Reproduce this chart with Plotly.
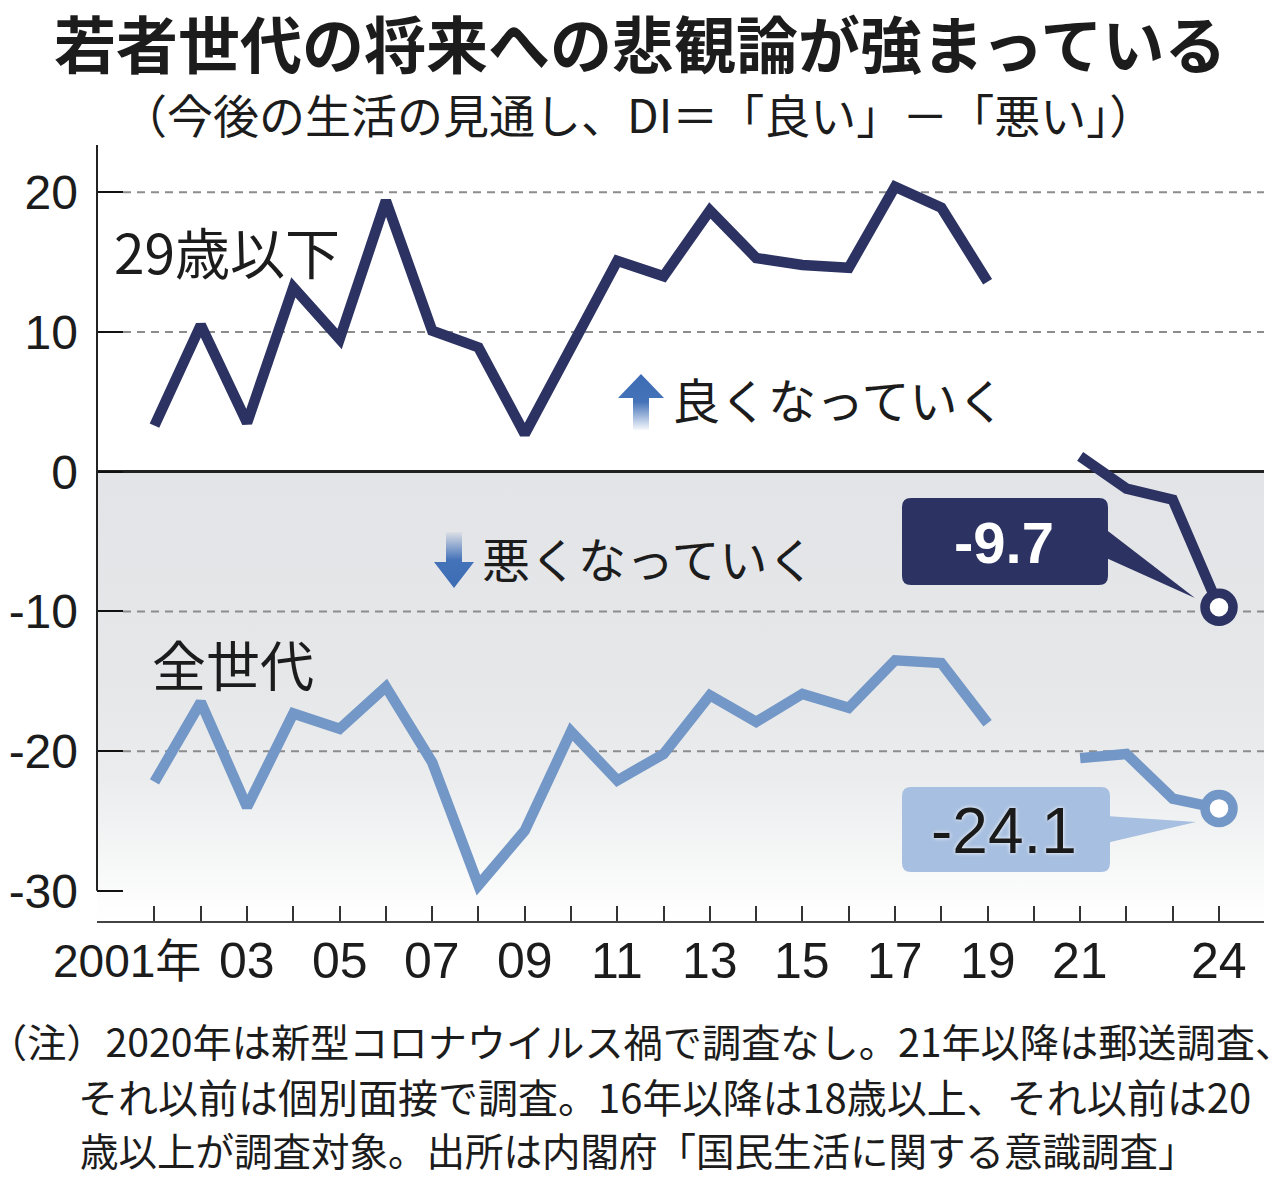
import base64
import plotly.graph_objects as go

# ---------------- data ----------------
YEARS = list(range(2001, 2025))
YOUTH_29_UNDER = [3.3, 10.5, 3.5, 13.2, 9.5, 19.4, 10.1, 8.9, 2.7, 8.9,
                  15.1, 14.0, 18.7, 15.3, 14.8, 14.6, 20.4, 18.9, 13.6, None,
                  1.1, -1.2, -2.0, -9.7]
ALL_GENERATIONS = [-22.2, -16.5, -24.0, -17.3, -18.4, -15.4, -20.8, -29.6, -25.7, -18.6,
                   -22.1, -20.2, -16.0, -17.9, -15.9, -16.9, -13.5, -13.7, -18.0, None,
                   -20.5, -20.2, -23.4, -24.1]
SERIES_NAMES = ["29歳以下", "全世代"]
X_LABELED = {2003: "03", 2005: "05", 2007: "07", 2009: "09", 2011: "11", 2013: "13",
             2015: "15", 2017: "17", 2019: "19", 2021: "21", 2024: "24"}
FIRST_YEAR_LABEL = "2001年"
Y_TICKS = [20, 10, 0, -10, -20, -30]
Y_TICK_LABELS = ["20", "10", "0", "-10", "-20", "-30"]
GRID_Y = [20, 10, -10, -20]

TITLE = "若者世代の将来への悲観論が強まっている"
SUBTITLE = "（今後の生活の見通し、DI＝「良い」－「悪い」）"
UP_LABEL = "良くなっていく"
DOWN_LABEL = "悪くなっていく"
NOTES = ["（注）2020年は新型コロナウイルス禍で調査なし。21年以降は郵送調査、",
         "それ以前は個別面接で調査。16年以降は18歳以上、それ以前は20",
         "歳以上が調査対象。出所は内閣府「国民生活に関する意識調査」"]

# ---------------- style ----------------
NAVY = "#2c3262"
LIGHT = "#7397c6"
BOX_LIGHT = "#a7bfe0"
TEXT = "#1c1c1c"
CJK = "Noto Sans CJK JP, sans-serif"
NUM = "Liberation Sans, sans-serif"

OFF = 8                      # browser body margin
W, H = 1280 - OFF, 1177 - OFF
PL, PR, PT, PB = 97, 1264, 145, 921  # plot area in reference pixels
X_RANGE = [1999.758, 2024.972]
Y_RANGE = [-32.16, 23.39]


def px(x):
    return (x - PL) / (PR - PL)


def py(y):
    return (PB - y) / (PB - PT)


def svg_uri(svg):
    return "data:image/svg+xml;base64," + base64.b64encode(svg.encode()).decode()


fig = go.Figure()

for name, vals, col in [(SERIES_NAMES[0], YOUTH_29_UNDER, NAVY),
                        (SERIES_NAMES[1], ALL_GENERATIONS, LIGHT)]:
    fig.add_trace(go.Scatter(x=YEARS, y=vals, mode="lines", name=name,
                             line=dict(color=col, width=10.5), connectgaps=False,
                             showlegend=False, hoverinfo="skip"))
    fig.add_trace(go.Scatter(x=[YEARS[-1]], y=[vals[-1]], mode="markers",
                             marker=dict(size=28, color="white",
                                         line=dict(color=col, width=9.5)),
                             showlegend=False, hoverinfo="skip"))

# background gradient below zero
grad_svg = ("<svg xmlns='http://www.w3.org/2000/svg' width='10' height='100' preserveAspectRatio='none'>"
            "<defs><linearGradient id='g' x1='0' y1='0' x2='0' y2='1'>"
            "<stop offset='0' stop-color='#e3e4e7'/>"
            "<stop offset='0.47' stop-color='#e6e7e9'/>"
            "<stop offset='0.68' stop-color='#ebecee'/>"
            "<stop offset='0.84' stop-color='#f4f5f5'/>"
            "<stop offset='0.96' stop-color='#fdfdfd'/>"
            "<stop offset='1' stop-color='#ffffff'/>"
            "</linearGradient></defs><rect width='10' height='100' fill='url(#g)'/></svg>")
images = [dict(source=svg_uri(grad_svg), xref="paper", yref="y", x=0, y=0,
               sizex=1, sizey=-Y_RANGE[0], xanchor="left", yanchor="top",
               sizing="stretch", layer="below")]

up_svg = ("<svg xmlns='http://www.w3.org/2000/svg' width='46' height='56' viewBox='0 0 46 56' preserveAspectRatio='none'>"
          "<defs><linearGradient id='u' x1='0' y1='0' x2='0' y2='1'>"
          "<stop offset='0' stop-color='#3e6cb4'/><stop offset='0.5' stop-color='#4573b9'/>"
          "<stop offset='1' stop-color='#4573b9' stop-opacity='0.05'/></linearGradient></defs>"
          "<path d='M23 0 L46 24 L31 24 L31 56 L15 56 L15 24 L0 24 Z' fill='url(#u)'/></svg>")
down_svg = ("<svg xmlns='http://www.w3.org/2000/svg' width='40' height='56' viewBox='0 0 40 56' preserveAspectRatio='none'>"
            "<defs><linearGradient id='d' x1='0' y1='0' x2='0' y2='1'>"
            "<stop offset='0' stop-color='#4573b9' stop-opacity='0.05'/><stop offset='0.5' stop-color='#4573b9'/>"
            "<stop offset='1' stop-color='#3e6cb4'/></linearGradient></defs>"
            "<path d='M12 0 L28 0 L28 30 L40 30 L20 56 L0 30 L12 30 Z' fill='url(#d)'/></svg>")
images.append(dict(source=svg_uri(up_svg), xref="paper", yref="paper",
                   x=px(618), y=py(374), sizex=px(664) - px(618), sizey=py(374) - py(430),
                   xanchor="left", yanchor="top", sizing="stretch", layer="above"))
images.append(dict(source=svg_uri(down_svg), xref="paper", yref="paper",
                   x=px(434), y=py(532), sizex=px(474) - px(434), sizey=py(532) - py(588),
                   xanchor="left", yanchor="top", sizing="stretch", layer="above"))

shapes = []
for g in GRID_Y:
    shapes.append(dict(type="line", xref="paper", yref="y", x0=px(123), x1=1, y0=g, y1=g,
                       line=dict(color="#8c8c8c", width=2, dash="8px,6px"), layer="below"))
# y axis line (stops at lowest tick)
shapes.append(dict(type="line", xref="paper", yref="y", x0=0, x1=0, y0=Y_TICKS[-1], y1=Y_RANGE[1],
                   line=dict(color="#222", width=2)))


def rrect(x0, y0, x1, y1, r):
    pts = [("M", [(x0 + r, y0)]), ("L", [(x1 - r, y0)]), ("Q", [(x1, y0), (x1, y0 + r)]),
           ("L", [(x1, y1 - r)]), ("Q", [(x1, y1), (x1 - r, y1)]), ("L", [(x0 + r, y1)]),
           ("Q", [(x0, y1), (x0, y1 - r)]), ("L", [(x0, y0 + r)]), ("Q", [(x0, y0), (x0 + r, y0)])]
    s = ""
    for cmd, ps in pts:
        s += cmd + " " + " ".join(f"{px(a):.5f},{py(b):.5f}" for a, b in ps) + " "
    return s + "Z"


def tri(p):
    return "M " + " L ".join(f"{px(a):.5f},{py(b):.5f}" for a, b in p) + " Z"


shapes.append(dict(type="path", xref="paper", yref="paper", path=rrect(902, 498, 1108, 585, 9),
                   fillcolor=NAVY, line=dict(width=0)))
shapes.append(dict(type="path", xref="paper", yref="paper",
                   path=tri([(1104, 528), (1195, 598), (1104, 557)]),
                   fillcolor=NAVY, line=dict(width=0)))
shapes.append(dict(type="path", xref="paper", yref="paper", path=rrect(902, 787, 1110, 872, 9),
                   fillcolor=BOX_LIGHT, line=dict(width=0)))
shapes.append(dict(type="path", xref="paper", yref="paper",
                   path=tri([(1106, 816), (1196, 822), (1106, 843)]),
                   fillcolor=BOX_LIGHT, line=dict(width=0)))

ann = []


def text(x, y, s, size, family=CJK, color=TEXT, xanchor="left", weight=None, shadow=None):
    f = dict(size=size, family=family, color=color)
    if weight:
        f["weight"] = weight
    if shadow:
        f["shadow"] = shadow
    ann.append(dict(x=px(x), y=py(y), xref="paper", yref="paper", text=s, showarrow=False,
                    xanchor=xanchor, yanchor="middle", font=f))


text(640, 42, TITLE, 62, xanchor="center", weight=700)
text(638, 113, SUBTITLE, 46, xanchor="center")
text(112, 250, SERIES_NAMES[0], 55)
text(150, 663, SERIES_NAMES[1], 54)
text(670, 398, UP_LABEL, 48)
text(480, 557, DOWN_LABEL, 48)
text(1004, 542, f"{YOUTH_29_UNDER[-1]:.1f}", 58, family=NUM,
     color="white", xanchor="center", weight=700)
text(1004, 831, f"{ALL_GENERATIONS[-1]:.1f}", 64, family=NUM,
     color="#1a1a1a", xanchor="center", shadow="0px 0px 4px #ffffff")
text(-14, 1040, NOTES[0], 39.2)
text(76, 1096, NOTES[1], 40)
text(78, 1149, NOTES[2], 38.5)

# x-axis labels (placed at the axis' own data positions)
for yr, lab in X_LABELED.items():
    ann.append(dict(x=yr, y=py(961), xref="x", yref="paper", text=lab, showarrow=False,
                    xanchor="center", yanchor="middle",
                    font=dict(size=50, family=NUM, color=TEXT)))
ann.append(dict(x=YEARS[0] + 1, y=py(961), xref="x", yref="paper", text=FIRST_YEAR_LABEL,
                showarrow=False, xanchor="right", yanchor="middle", xshift=2,
                font=dict(size=46, family=NUM + ", " + CJK, color=TEXT)))

fig.update_layout(
    width=W, height=H, autosize=False,
    margin=dict(l=PL - OFF, r=1280 - PR, t=PT - OFF, b=1177 - PB, pad=0),
    paper_bgcolor="white", plot_bgcolor="rgba(0,0,0,0)",
    showlegend=False,
    xaxis=dict(range=X_RANGE, tickmode="array", tickvals=YEARS, showticklabels=False,
               ticks="inside", ticklen=15, tickwidth=2, tickcolor="#333", automargin=False,
               showline=True, linecolor="#444", linewidth=2, showgrid=False, zeroline=False),
    yaxis=dict(range=Y_RANGE, tickmode="array", tickvals=Y_TICKS, ticktext=Y_TICK_LABELS,
               ticks="inside", ticklen=26, tickwidth=2, tickcolor="#111", automargin=False,
               showline=False, showgrid=False, zeroline=True, zerolinecolor="#222",
               zerolinewidth=2.5, tickfont=dict(size=48, family=NUM, color=TEXT),
               ticklabelstandoff=18),
    shapes=shapes, annotations=ann, images=images,
)

fig.write_html("out.html")
